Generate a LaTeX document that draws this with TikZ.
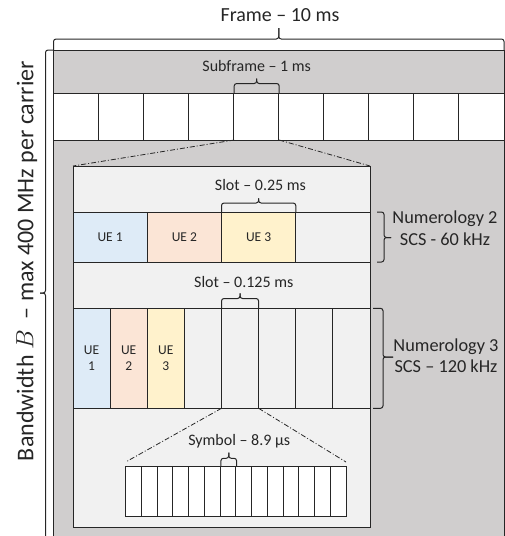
\documentclass[tikz,border=0pt]{standalone}
\usepackage{fontspec}
\setmainfont{Carlito}
\definecolor{bggray}{HTML}{D0CECE}
\definecolor{innergray}{HTML}{F1F1F1}
\definecolor{ueone}{HTML}{DEEBF7}
\definecolor{uetwo}{HTML}{FBE5D6}
\definecolor{uethree}{HTML}{FFF2CC}
\definecolor{lncol}{HTML}{262626}
\newcommand{\topbrace}[5]{%
  \pgfmathsetmacro{\bm}{(#1+#2)/2}%
  \draw[brc] (#1,#3) -- (#1,#4) -- (\bm,#4) -- (\bm,#5);
  \draw[brc] (#2,#3) -- (#2,#4) -- (\bm,#4) -- (\bm,#5);
}
\newcommand{\rightbrace}[6]{% y1 y2 xend xmid xtip ytip
  \draw[brc] (#3,#1) -- (#4,#1) -- (#4,#6) -- (#5,#6);
  \draw[brc] (#3,#2) -- (#4,#2) -- (#4,#6) -- (#5,#6);
}
\begin{document}
\begin{tikzpicture}[x=1pt,y=-1pt,
  ln/.style={draw=lncol,line width=1pt},
  brc/.style={draw=lncol,line width=1pt,rounded corners=2.5pt},
  dd/.style={draw=lncol,line width=0.8pt,dash pattern=on 5pt off 2pt on 1pt off 2pt},
  lbl/.style={inner sep=0pt,anchor=base,text=black!85,font=\fontsize{16}{19}\selectfont},
  uelbl/.style={inner sep=0pt,text=black!85,font=\fontsize{13.5}{16.7}\selectfont,align=center},
  numlbl/.style={inner sep=0pt,anchor=base,text=black!85,font=\fontsize{18.3}{22}\selectfont}]
\useasboundingbox (0,0) rectangle (505,536);
% background
\fill[bggray] (53.5,50) rectangle (504,545);
\draw[ln] (53.5,545) -- (53.5,50) -- (504,50) -- (504,545);
% subframes
\foreach \i in {0,...,9} \draw[ln,fill=white] (53.5+\i*45.05,93) rectangle ++(45.05,47);
\coordinate (sfl) at (234.2,140);
\coordinate (sfr) at (279.2,140);
% inner box
\draw[ln,fill=innergray] (73,166) rectangle (370,527.5);
\coordinate (ibl) at (73,166);
\coordinate (ibr) at (370,166);
\draw[dd] (sfl) -- (ibl);
\draw[dd] (sfr) -- (ibr);
% numerology 2 row
\draw[ln,fill=ueone] (73,212) rectangle ++(74.25,50);
\draw[ln,fill=uetwo] (147.25,212) rectangle ++(74.25,50);
\draw[ln,fill=uethree] (221.5,212) rectangle ++(74.25,50);
\draw[ln,fill=innergray] (295.75,212) rectangle ++(74.25,50);
\node[uelbl,anchor=base] (n2ue1) at (110.1,241) {UE 1};
\node[uelbl,anchor=base] (n2ue2) at (184.4,241) {UE 2};
\node[uelbl,anchor=base] (n2ue3) at (258.6,241) {UE 3};
% numerology 3 row
\foreach \i/\c in {0/ueone,1/uetwo,2/uethree,3/innergray,4/innergray,5/innergray,6/innergray,7/innergray}
  \draw[ln,fill=\c] (73+\i*37.125,308.3) rectangle ++(37.125,100);
\node[uelbl] (n3ue1) at (91.6,358.3) {UE\\1};
\node[uelbl] (n3ue2) at (128.7,358.3) {UE\\2};
\node[uelbl] (n3ue3) at (165.8,358.3) {UE\\3};
\coordinate (s3l) at (221.5,408.3);
\coordinate (s3r) at (258.6,408.3);
% symbols
\foreach \i in {0,...,13} \draw[ln,fill=white] (125.7+\i*15.74,466) rectangle ++(15.74,50);
\coordinate (syl) at (125.7,462);
\coordinate (syr) at (346,462);
\draw[dd] (s3l) -- (syl);
\draw[dd] (s3r) -- (syr);
% braces
\topbrace{53.5}{504}{50}{39}{28}
\topbrace{234.2}{279.2}{93}{83.5}{78.5}
\topbrace{221.5}{295.75}{212}{203}{198.3}
\topbrace{221.5}{258.6}{308.3}{298.5}{293.3}
\topbrace{220.9}{236.6}{466}{458.3}{452.7}
\rightbrace{212}{262}{377}{384}{391}{237.5}
\rightbrace{308.3}{408.3}{373}{383}{393}{357}
\draw[brc] (53.5,50) -- (45.5,50) -- (45.5,293) -- (40,293);
\draw[brc] (45.5,545) -- (45.5,293) -- (40,293);
% labels
\node[lbl,font=\fontsize{20}{24}\selectfont] (frame) at (280,21) {Frame – 10 ms};
\node[lbl] (subframe) at (256.7,71.7) {Subframe – 1 ms};
\node[lbl] (slota) at (260.5,190) {Slot – 0.25 ms};
\node[lbl] (slotb) at (243.8,287.7) {Slot – 0.125 ms};
\node[lbl] (symbol) at (239.2,445) {Symbol – 8.9 µs};
\node[numlbl] (num2) at (445,223) {Numerology 2};
\node[numlbl] (scs2) at (445,245.7) {SCS - 60 kHz};
\node[numlbl] (num3) at (446,351.7) {Numerology 3};
\node[numlbl] (scs3) at (446,372.7) {SCS – 120 kHz};
\node[lbl,rotate=90,font=\fontsize{24}{28}\selectfont] (bw) at (33.3,261) {Bandwidth $B$ \ – max 400 MHz per carrier};
\end{tikzpicture}
\end{document}
